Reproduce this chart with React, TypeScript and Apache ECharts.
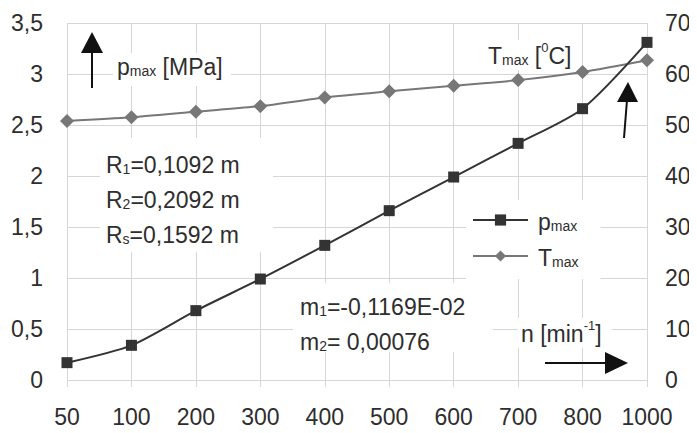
import React, { useEffect, useRef } from "react";
import * as echarts from "echarts";

const categories = ["50", "100", "200", "300", "400", "500", "600", "700", "800", "1000"];
const pMax = [0.17, 0.34, 0.68, 0.99, 1.32, 1.66, 1.99, 2.32, 2.66, 3.31];
const tMax = [50.8, 51.5, 52.6, 53.7, 55.4, 56.6, 57.7, 58.8, 60.4, 62.7];

const FONT = "'Liberation Sans', Arial, sans-serif";
const TXT = "#2e2e2e";
const GRIDC = "#d6d6d6";

const richStyles: any = {
  b: { fontSize: 23, fontFamily: FONT, color: TXT, lineHeight: 26, verticalAlign: "bottom" },
  s: { fontSize: 14, fontFamily: FONT, color: TXT, lineHeight: 18, verticalAlign: "bottom" },
  u: { fontSize: 13, fontFamily: FONT, color: TXT, lineHeight: 14, verticalAlign: "top" },
};

function label(x: number, y: number, text: string, z = 5): any {
  return {
    type: "text",
    x,
    y,
    z,
    style: { text, rich: richStyles, fill: TXT, font: `23px ${FONT}`, verticalAlign: "middle" },
  };
}

function whiteRect(x: number, y: number, w: number, h: number): any {
  return { type: "rect", z: 1, shape: { x, y, width: w, height: h }, style: { fill: "#fff" } };
}

export default function App() {
  const ref = useRef<HTMLDivElement>(null);
  useEffect(() => {
    if (!ref.current) return;
    const chart = echarts.init(ref.current, null, { renderer: "svg" });
    chart.setOption({
      animation: false,
      backgroundColor: "#fff",
      textStyle: { fontFamily: FONT },
      grid: { left: 67, right: 50, top: 23, bottom: 53 },
      xAxis: {
        type: "category",
        data: categories,
        boundaryGap: false,
        axisLine: { show: false },
        axisTick: { show: true, interval: 0, length: 7, lineStyle: { color: GRIDC } },
        splitLine: { show: true, interval: 0, lineStyle: { color: GRIDC, width: 1 } },
        axisLabel: { interval: 0, hideOverlap: false, fontSize: 23, lineHeight: 24, color: TXT, margin: 25, fontFamily: FONT },
      },
      yAxis: [
        {
          type: "value",
          min: 0,
          max: 3.5,
          interval: 0.5,
          axisLine: { show: false },
          axisTick: { show: false },
          splitLine: { lineStyle: { color: GRIDC } },
          axisLabel: {
            fontSize: 23,
            color: TXT,
            margin: 24,
            fontFamily: FONT,
            formatter: (v: number) => String(v).replace(".", ","),
          },
        },
        {
          type: "value",
          min: 0,
          max: 70,
          interval: 10,
          position: "right",
          axisLine: { show: false },
          axisTick: { show: false },
          splitLine: { show: false },
          axisLabel: { fontSize: 23, color: TXT, margin: 18, fontFamily: FONT },
        },
      ],
      legend: {
        orient: "vertical",
        left: 466,
        top: 200,
        backgroundColor: "#fff",
        padding: [10, 22, 10, 6],
        itemGap: 13,
        itemWidth: 55,
        itemHeight: 14,
        z: 4,
        data: ["pmax", "Tmax"],
        formatter: (n: string) => (n === "pmax" ? "{b|p}{s|max}" : "{b|T}{s|max}"),
        textStyle: { rich: richStyles, padding: [0, 0, 0, 5] },
      },
      series: [
        {
          name: "pmax",
          type: "line",
          yAxisIndex: 0,
          data: pMax,
          smooth: 0.25,
          symbol: "rect",
          symbolSize: 11,
          lineStyle: { color: "#333", width: 2 },
          itemStyle: { color: "#333" },
          z: 6,
        },
        {
          name: "Tmax",
          type: "line",
          yAxisIndex: 1,
          data: tMax,
          smooth: 0.25,
          symbol: "diamond",
          symbolSize: 14,
          lineStyle: { color: "#777", width: 2 },
          itemStyle: { color: "#777" },
          z: 5,
        },
      ],
      graphic: [
        whiteRect(113, 53, 118, 33),
        whiteRect(485, 40, 90, 30),
        whiteRect(100, 138, 173, 114),
        whiteRect(293, 283, 200, 69),
        whiteRect(518, 318, 94, 30),
        { type: "line", z: 5, shape: { x1: 92, y1: 50, x2: 92, y2: 88 }, style: { stroke: "#111", lineWidth: 2 } },
        { type: "polygon", z: 5, shape: { points: [[92, 32], [81, 53], [103, 53]] }, style: { fill: "#111" } },
        { type: "line", z: 7, shape: { x1: 624, y1: 138, x2: 627, y2: 100 }, style: { stroke: "#111", lineWidth: 2 } },
        { type: "polygon", z: 7, shape: { points: [[628, 82], [617, 102], [638, 102]] }, style: { fill: "#111" } },
        { type: "line", z: 5, shape: { x1: 545, y1: 363, x2: 610, y2: 363 }, style: { stroke: "#111", lineWidth: 2 } },
        { type: "polygon", z: 5, shape: { points: [[628, 363], [605, 352], [605, 374]] }, style: { fill: "#111" } },
        label(117, 65, "{b|p}{s|max}{b| [MPa]}"),
        label(488, 54, "{b|T}{s|max}{b| [}{u|0}{b|C]}"),
        label(106, 163, "{b|R}{s|1}{b|=0,1092 m}"),
        label(106, 198, "{b|R}{s|2}{b|=0,2092 m}"),
        label(106, 233, "{b|R}{s|s}{b|=0,1592 m}"),
        label(300, 305, "{b|m}{s|1}{b|=-0,1169E-02}"),
        label(300, 340, "{b|m}{s|2}{b|= 0,00076}"),
        label(521, 332, "{b|n [min}{u|-1}{b|]}"),
      ],
    });
    return () => chart.dispose();
  }, []);
  return <div ref={ref} style={{ width: 697, height: 433, margin: -8 }} />;
}
